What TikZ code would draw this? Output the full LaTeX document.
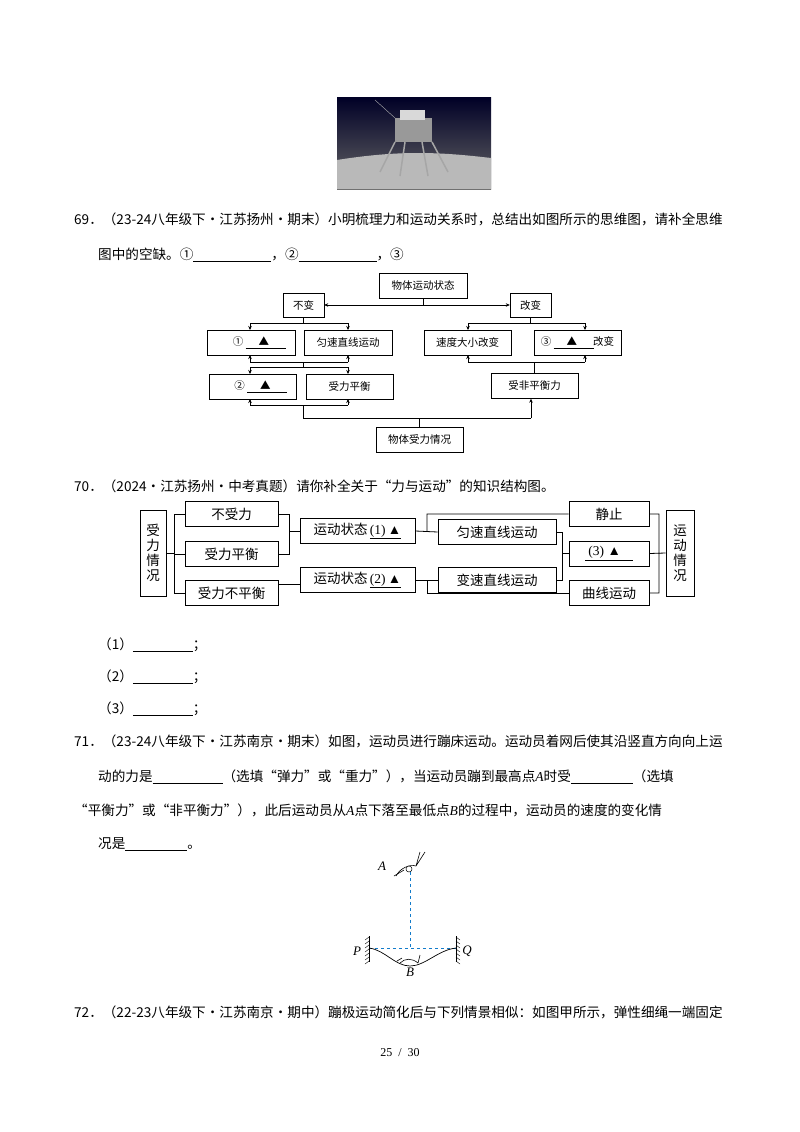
\documentclass[tikz,border=0pt]{standalone}
\usepackage{fontspec}
\setmainfont{Noto Sans CJK SC}
\newfontfamily\tms{Liberation Serif}
\usetikzlibrary{arrows.meta}
\newcommand{\blank}[1]{\rule[-2.5pt]{#1}{0.6pt}}
\begin{document}
\begin{tikzpicture}[x=1pt,y=-1pt,
 txt/.style={anchor=base west,inner sep=0,font=\fontsize{13.6}{15}\selectfont},
 b/.style={draw,inner sep=0,minimum height=25pt,font=\fontsize{10.5}{12}\selectfont},
 c/.style={draw,inner sep=0,minimum height=25pt,line width=0.8pt,font=\fontsize{13.5}{15}\selectfont},
 ar/.style={-{Stealth[length=4pt,width=3.5pt]}},
 ln/.style={line width=0.5pt},
 cl/.style={line width=0.8pt}]
\useasboundingbox (0,0) rectangle (800,1132);
\fill[white] (0,0) rectangle (800,1132);
% photo
\shade[top color=black!85!blue,bottom color=black!60] (337,97) rectangle (491,189);
\fill[gray!55] (337,160) .. controls (400,150) and (440,152) .. (491,158) -- (491,189) -- (337,189) -- cycle;
\fill[gray!80] (395,118) rectangle (432,142);
\fill[gray!30] (400,110) rectangle (425,120);
\draw[gray!70,line width=1.5pt] (395,142) -- (380,172) (432,142) -- (448,172) (405,142) -- (400,176) (422,142) -- (428,176);
\draw[gray!60] (395,118) -- (375,100);
% Q69
\node[txt] at (74,224) {69．（23-24八年级下·江苏扬州·期末）小明梳理力和运动关系时，总结出如图所示的思维图，请补全思维};
\node[txt] at (98,259) {图中的空缺。①\blank{78pt}，②\blank{78pt}，③};
\node[b,minimum width=88pt] (top) at (423,285.5) {物体运动状态};
\node[b,minimum width=41pt,minimum height=24pt] (bj) at (303.5,305) {不变};
\node[b,minimum width=41pt,minimum height=24pt] (gb) at (530.5,305) {改变};
\node[b,minimum width=88pt] (n1) at (251,342.5) {①\ \blank{40pt}\hspace{-27pt}▲\hspace{20pt}};
\node[b,minimum width=88pt] (ys) at (348,342.5) {匀速直线运动};
\node[b,minimum width=87pt] (sd) at (467.5,342.5) {速度大小改变};
\node[b,minimum width=87pt] (n3) at (577.5,342.5) {③\ \blank{40pt}\hspace{-27pt}▲\hspace{16pt}改变};
\node[b,minimum width=87pt] (n2) at (252.5,386.5) {②\ \blank{40pt}\hspace{-27pt}▲\hspace{20pt}};
\node[b,minimum width=87pt] (ph) at (349.5,386.5) {受力平衡};
\node[b,minimum width=87pt] (fp) at (534.5,386) {受非平衡力};
\node[b,minimum width=87pt] (bot) at (419.5,439.5) {物体受力情况};
\draw[ln] (top.south) -- (423,305);
\draw[ln,{Stealth[length=4pt,width=3.5pt]}-{Stealth[length=4pt,width=3.5pt]}] (bj.east) -- (gb.west);
\draw[ln] (bj.south) -- (303.5,323) (250,323) -- (348,323);
\draw[ln,ar] (250,323) -- (250,330); \draw[ln,ar] (348,323) -- (348,330);
\draw[ln] (gb.south) -- (530.5,323) (468,323) -- (585,323);
\draw[ln,ar] (468,323) -- (468,330); \draw[ln,ar] (585,323) -- (585,330);
\draw[ln] (250,362) -- (348,362) (303.5,362) -- (303.5,367) (250,367) -- (348,367);
\draw[ln,ar] (250,362) -- (250,355); \draw[ln,ar] (348,362) -- (348,355);
\draw[ln,ar] (250,367) -- (250,374); \draw[ln,ar] (348,367) -- (348,374);
\draw[ln] (468,362) -- (585,362) (fp.north) -- (534.5,362);
\draw[ln,ar] (468,362) -- (468,355); \draw[ln,ar] (585,362) -- (585,355);
\draw[ln] (250,405) -- (348,405) (303.5,405) -- (303.5,418) -- (531,418) (bot.north) -- (419.5,418);
\draw[ln,ar] (250,405) -- (250,399); \draw[ln,ar] (348,405) -- (348,399);
\draw[ln,ar] (531,418) -- (fp.south -| 531,0);
% Q70
\node[txt] at (74,491) {70．（2024·江苏扬州·中考真题）请你补全关于“力与运动”的知识结构图。};
\node[c,minimum width=26pt,minimum height=86pt,text width=14pt,align=center] (sl) at (153,553) {受\\力\\情\\况};
\node[c,minimum width=93pt] (bsl) at (231.5,514) {不受力};
\node[c,minimum width=93pt] (slp) at (231.5,554) {受力平衡};
\node[c,minimum width=93pt] (sbp) at (231.5,593) {受力不平衡};
\node[c,minimum width=115pt] (z1) at (357.5,531) {运动状态\,\underline{\tms(1)\,▲}};
\node[c,minimum width=115pt] (z2) at (357.5,580) {运动状态\,\underline{\tms(2)\,▲}};
\node[c,minimum width=118pt] (yy) at (497,532) {匀速直线运动};
\node[c,minimum width=118pt] (by) at (497,580) {变速直线运动};
\node[c,minimum width=80pt] (jz) at (609,514) {静止};
\node[c,minimum width=80pt] (q3) at (609,553.5) {\underline{\tms\ (3)\ ▲\hspace{12pt}}};
\node[c,minimum width=80pt] (qx) at (609,593) {曲线运动};
\node[c,minimum width=28pt,minimum height=86pt,text width=14pt,align=center] (yd) at (680,553) {运\\动\\情\\况};
\draw[cl] (sl.east) -- (174,553) (174,514) -- (174,593);
\draw[cl] (174,514) -- (bsl.west) (174,554) -- (slp.west) (174,593) -- (sbp.west);
\draw[cl] (bsl.east) -| (289,554) -- (slp.east) (289,531) -- (z1.west);
\draw[cl] (sbp.east |- 0,584) -- (z2.west |- 0,584);
\draw[cl] (z1.east) -- (yy.west) (427,531) |- (jz.west);
\draw[cl] (z2.east) -- (by.west) (427,580) |- (qx.west);
\draw[cl] (yy.east) -| (562,580) -- (by.east) (562,553.5) -- (q3.west);
\draw[cl] (jz.east) -| (659,593) -- (qx.east) (q3.east) -- (yd.west);
\node[txt] at (98,649) {（1）\blank{60pt}；};
\node[txt] at (98,681) {（2）\blank{60pt}；};
\node[txt] at (98,713) {（3）\blank{60pt}；};
% Q71
\node[txt] at (74,746) {71．（23-24八年级下·江苏南京·期末）如图，运动员进行蹦床运动。运动员着网后使其沿竖直方向向上运};
\node[txt] at (98,781) {动的力是\blank{70pt}（选填“弹力”或“重力”），当运动员蹦到最高点{\tms\itshape A}时受\blank{62pt}（选填};
\node[txt] at (74,815) {“平衡力”或“非平衡力”），此后运动员从{\tms\itshape A}点下落至最低点{\tms\itshape B}的过程中，运动员的速度的变化情};
\node[txt] at (98,848) {况是\blank{62pt}。};
% figure 71
\node[font=\tms\itshape\fontsize{13}{14}\selectfont] (A) at (382,866) {A};
\node[font=\tms\itshape\fontsize{13}{14}\selectfont] (P) at (357,951) {P};
\node[font=\tms\itshape\fontsize{13}{14}\selectfont] (Q) at (467,951) {Q};
\node[font=\tms\itshape\fontsize{13}{14}\selectfont] (B) at (410,972) {B};
\coordinate (pl) at (369,948); \coordinate (qr) at (456,948);
\draw[dashed,color=cyan!60!blue,line width=0.8pt] (410,872) -- (410,948) (pl) -- (qr);
\draw[line width=0.7pt] (369,936) -- (369,962) (456,936) -- (456,962);
\foreach \t in {937,941,...,961}{\draw[line width=0.4pt] (369,\t) -- (365,\t+3); \draw[line width=0.4pt] (456,\t) -- (460,\t+3);}
\draw[line width=0.7pt] (pl) .. controls (385,950) and (395,966) .. (410,966) .. controls (425,966) and (438,950) .. (qr);
\draw[line width=0.6pt] (396,876) .. controls (400,868) and (410,864) .. (416,866) -- (420,852) (416,866) -- (425,852);
\draw[line width=0.6pt] (394,876) -- (404,870);
\fill[white,draw=black,line width=0.5pt] (409,869) circle (3);
\draw[line width=0.6pt] (400,963) .. controls (405,958) and (412,958) .. (418,963) (418,963) -- (420,955) (397,961) -- (402,958);
% Q72
\node[txt] at (74,1017) {72．（22-23八年级下·江苏南京·期中）蹦极运动简化后与下列情景相似：如图甲所示，弹性细绳一端固定};
\node[font=\tms\fontsize{12}{13}\selectfont] (pg) at (400,1053) {25 \ / \ 30};
\end{tikzpicture}
\end{document}
